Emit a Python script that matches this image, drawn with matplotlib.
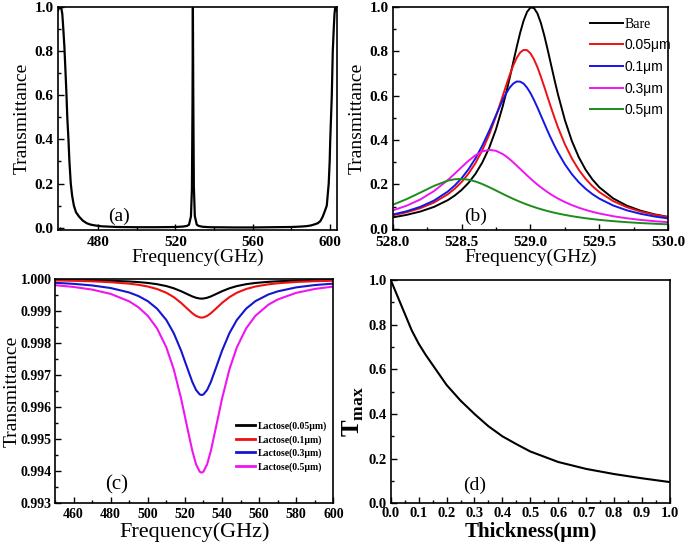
import matplotlib
matplotlib.use("Agg")
import matplotlib.pyplot as plt
from matplotlib.ticker import MultipleLocator, FormatStrFormatter

plt.rcParams['font.family'] = ['Liberation Serif', 'DejaVu Serif']
plt.rcParams['mathtext.fontset'] = 'custom'
plt.rcParams['mathtext.rm'] = 'Liberation Serif'
plt.rcParams['mathtext.bf'] = 'Liberation Serif:bold'

# ---------------- Panel (a) data ----------------
freq_a = [459.2, 459.8, 460.3, 460.9, 461.4, 461.8, 462.5, 463.0, 463.5, 464.0, 464.6,
          465.1, 465.8, 466.5, 467.4, 468.5, 470.1, 472.0, 474.1, 476.0, 478.4, 482.0,
          490.0, 500.0, 510.0, 520.0, 524.0, 526.0, 527.0, 528.0, 528.5, 528.8, 529.0,
          529.2, 529.5, 530.0, 531.0, 532.0, 534.0, 538.0, 550.0, 560.0, 570.0, 580.0,
          585.0, 588.0, 590.1, 592.0, 593.6, 595.0, 596.2, 597.3, 598.3, 599.3, 599.8,
          600.1, 600.5, 600.9, 601.4, 601.9, 602.3, 602.7, 603.2, 603.6]
trans_a = [0.985, 0.998, 1.0, 0.995, 0.97, 0.92, 0.82, 0.72, 0.62, 0.5, 0.4,
           0.3, 0.2, 0.145, 0.1, 0.07, 0.05, 0.032, 0.02, 0.014, 0.01, 0.006,
           0.003, 0.002, 0.002, 0.003, 0.005, 0.008, 0.0135, 0.051, 0.175, 0.556, 0.998,
           0.605, 0.187, 0.053, 0.0137, 0.008, 0.004, 0.002, 0.001, 0.001, 0.002, 0.003,
           0.005, 0.007, 0.01, 0.015, 0.02, 0.03, 0.05, 0.075, 0.1, 0.2, 0.3,
           0.4, 0.5, 0.6, 0.8, 0.9, 0.97, 1.0, 0.995, 0.985]

# ---------------- Panel (b) data ----------------
freq_b = [528.0, 528.1, 528.2, 528.3, 528.4, 528.45, 528.5, 528.55, 528.6, 528.65,
          528.7, 528.75, 528.8, 528.825, 528.85, 528.875, 528.9, 528.925, 528.95, 528.975,
          529.0, 529.025, 529.05, 529.075, 529.1, 529.125, 529.15, 529.175, 529.2, 529.25,
          529.3, 529.35, 529.4, 529.45, 529.5, 529.6, 529.7, 529.8, 529.9, 530.0]
bare_b = [0.0513, 0.0625, 0.0776, 0.0987, 0.1292, 0.1497, 0.1751, 0.2069, 0.2472, 0.2987,
          0.3648, 0.4495, 0.5559, 0.6173, 0.6832, 0.7518, 0.8202, 0.8843, 0.9388, 0.9783,
          0.9982, 0.9959, 0.9718, 0.9289, 0.8720, 0.8067, 0.7380, 0.6697, 0.6046, 0.4894,
          0.3963, 0.3232, 0.2663, 0.2219, 0.1869, 0.1369, 0.1039, 0.0813, 0.0651, 0.0533]
t005_b = [0.0607, 0.0742, 0.0926, 0.1184, 0.1556, 0.1805, 0.2110, 0.2488, 0.2957, 0.3537,
          0.4244, 0.5083, 0.6020, 0.6497, 0.6955, 0.7368, 0.7709, 0.7950, 0.8069, 0.8056,
          0.7911, 0.7648, 0.7291, 0.6866, 0.6403, 0.5924, 0.5450, 0.4994, 0.4565, 0.3804,
          0.3174, 0.2664, 0.2252, 0.1919, 0.1650, 0.1248, 0.0971, 0.0774, 0.0631, 0.0523]
t01_b = [0.0640, 0.0788, 0.0989, 0.1272, 0.1680, 0.1951, 0.2281, 0.2683, 0.3169, 0.3748,
         0.4413, 0.5132, 0.5828, 0.6127, 0.6377, 0.6549, 0.6643, 0.6637, 0.6547, 0.6365,
         0.6118, 0.5812, 0.5476, 0.5116, 0.4755, 0.4398, 0.4058, 0.3735, 0.3436, 0.2905,
         0.2464, 0.2101, 0.1803, 0.1559, 0.1357, 0.1049, 0.0830, 0.0672, 0.0553, 0.0463]
t03_b = [0.0828, 0.1037, 0.1321, 0.1702, 0.2198, 0.2483, 0.2780, 0.3067, 0.3314, 0.3489,
         0.3560, 0.3516, 0.3364, 0.3255, 0.3131, 0.2994, 0.2850, 0.2702, 0.2554, 0.2407,
         0.2265, 0.2127, 0.1996, 0.1872, 0.1756, 0.1646, 0.1544, 0.1449, 0.1361, 0.1203,
         0.1067, 0.0950, 0.0850, 0.0763, 0.0688, 0.0566, 0.0472, 0.0399, 0.0341, 0.0295]
t05_b = [0.1080, 0.1334, 0.1631, 0.1935, 0.2171, 0.2234, 0.2249, 0.2214, 0.2134, 0.2017,
         0.1877, 0.1724, 0.1569, 0.1493, 0.1420, 0.1348, 0.1279, 0.1213, 0.1151, 0.1091,
         0.1035, 0.0982, 0.0931, 0.0884, 0.0840, 0.0798, 0.0758, 0.0722, 0.0687, 0.0624,
         0.0568, 0.0519, 0.0475, 0.0436, 0.0401, 0.0343, 0.0296, 0.0257, 0.0226, 0.0199]
labels_b = ['Bare', '0.05\u03bcm', '0.1\u03bcm', '0.3\u03bcm', '0.5\u03bcm']
colors_b = ['black', '#ee1111', '#1515e8', '#f015f0', '#1c8c1c']

# ---------------- Panel (c) data ----------------
freq_c = [450, 460, 470, 480, 490, 495, 500, 505, 510, 514, 518, 521, 524, 526, 528,
          529, 530, 532, 534, 537, 540, 544, 548, 553, 558, 565, 570, 580, 590, 600]
lac005_c = [0.999982, 0.999976, 0.999968, 0.999954, 0.999931, 0.999912, 0.999885, 0.999846,
            0.999787, 0.999718, 0.999625, 0.999543, 0.999463, 0.999421, 0.999397, 0.999394,
            0.999397, 0.999421, 0.999463, 0.999543, 0.999625, 0.999718, 0.999787, 0.999846,
            0.999885, 0.999920, 0.999937, 0.999958, 0.999970, 0.999977]
lac01_c = [0.999963, 0.999953, 0.999936, 0.999909, 0.999863, 0.999826, 0.999773, 0.999695,
           0.999578, 0.999441, 0.999258, 0.999095, 0.998936, 0.998853, 0.998806, 0.998800,
           0.998806, 0.998853, 0.998936, 0.999095, 0.999258, 0.999441, 0.999578, 0.999695,
           0.999773, 0.999842, 0.999875, 0.999916, 0.999940, 0.999955]
lac03_c = [0.999890, 0.999857, 0.999807, 0.999726, 0.999586, 0.999474, 0.999315, 0.999079,
           0.998724, 0.998312, 0.997758, 0.997267, 0.996784, 0.996533, 0.996392, 0.996374,
           0.996392, 0.996533, 0.996784, 0.997267, 0.997758, 0.998312, 0.998724, 0.999079,
           0.999315, 0.999524, 0.999621, 0.999746, 0.999819, 0.999864]
lac05_c = [0.999815, 0.999760, 0.999677, 0.999543, 0.999308, 0.999121, 0.998855, 0.998461,
           0.997868, 0.997179, 0.996253, 0.995432, 0.994626, 0.994206, 0.993971, 0.993940,
           0.993971, 0.994206, 0.994626, 0.995432, 0.996253, 0.997179, 0.997868, 0.998461,
           0.998855, 0.999204, 0.999367, 0.999575, 0.999697, 0.999773]
labels_c = ['Lactose(0.05\u03bcm)', 'Lactose(0.1\u03bcm)', 'Lactose(0.3\u03bcm)', 'Lactose(0.5\u03bcm)']
colors_c = ['black', '#ee1111', '#1515d0', '#f015f0']

# ---------------- Panel (d) data ----------------
thick_d = [0.0, 0.025, 0.05, 0.075, 0.1, 0.125, 0.15, 0.2, 0.25, 0.3, 0.35, 0.4, 0.45,
           0.5, 0.6, 0.7, 0.8, 0.9, 1.0]
tmax_d = [1.0, 0.925, 0.85, 0.775, 0.715, 0.665, 0.62, 0.53, 0.46, 0.40, 0.345, 0.30, 0.265,
          0.232, 0.185, 0.154, 0.131, 0.112, 0.095]

fig = plt.figure(figsize=(6.85, 5.46), dpi=100)

def style(ax, tsize, xpad=3, ypad=3):
    ax.tick_params(axis='both', which='both', direction='in', top=False, right=False,
                   labelsize=tsize, width=1.0)
    ax.tick_params(axis='x', which='both', pad=xpad)
    ax.tick_params(axis='y', which='both', pad=ypad)
    ax.tick_params(which='major', length=4.5)
    ax.tick_params(which='minor', length=2.5)
    for lab in ax.get_xticklabels() + ax.get_yticklabels():
        lab.set_fontweight('bold')
    for s in ax.spines.values():
        s.set_linewidth(1.2)

# (a)
axa = fig.add_axes([0.0847, 0.579, 0.4073, 0.408])
axa.plot(freq_a, trans_a, color='black', lw=1.6)
axa.set_xlim(459.2, 603.6)
axa.set_ylim(-0.01, 1.0)
axa.set_xticks([480, 520, 560, 600])
axa.xaxis.set_minor_locator(MultipleLocator(20))
axa.yaxis.set_major_locator(MultipleLocator(0.2))
axa.yaxis.set_minor_locator(MultipleLocator(0.1))
axa.yaxis.set_major_formatter(FormatStrFormatter('%.1f'))
style(axa, 11, xpad=4.5)
axa.set_xlabel('Frequency(GHz)', fontsize=14, labelpad=0)
axa.set_ylabel('Transmittance', fontsize=14, labelpad=3)
axa.text(0.22, 0.06, '(a)', transform=axa.transAxes, fontsize=14, ha='center', va='center')

# (b)
axb = fig.add_axes([0.5733, 0.579, 0.4023, 0.408])
for ys, lab, col in zip([bare_b, t005_b, t01_b, t03_b, t05_b], labels_b, colors_b):
    axb.plot(freq_b, ys, color=col, lw=1.4, label=lab)
axb.set_xlim(528.0, 530.0)
axb.set_ylim(-0.005, 1.0)
axb.xaxis.set_major_locator(MultipleLocator(0.5))
axb.xaxis.set_minor_locator(MultipleLocator(0.25))
axb.xaxis.set_major_formatter(FormatStrFormatter('%.1f'))
axb.yaxis.set_major_locator(MultipleLocator(0.2))
axb.yaxis.set_minor_locator(MultipleLocator(0.1))
axb.yaxis.set_major_formatter(FormatStrFormatter('%.1f'))
style(axb, 11, xpad=4.5)
axb.set_xlabel('Frequency(GHz)', fontsize=14, labelpad=0)
axb.set_ylabel('Transmittance', fontsize=14, labelpad=3)
axb.text(0.3, 0.06, '(b)', transform=axb.transAxes, fontsize=14, ha='center', va='center')
legb = axb.legend(loc='upper right', frameon=False, fontsize=10, handlelength=2.4,
                  handletextpad=0.1, labelspacing=0.55, borderaxespad=0.2,
                  bbox_to_anchor=(1.04, 0.99))
for i, t in enumerate(legb.get_texts()):
    if i > 0:
        t.set_fontfamily(['Liberation Sans', 'DejaVu Sans'])

# (c)
axc = fig.add_axes([0.0803, 0.0793, 0.4063, 0.4092])
for ys, lab, col in zip([lac005_c, lac01_c, lac03_c, lac05_c], labels_c, colors_c):
    axc.plot(freq_c, ys, color=col, lw=1.5, label=lab)
axc.set_xlim(450, 600)
axc.set_ylim(0.993, 1.000)
axc.xaxis.set_major_locator(MultipleLocator(20))
axc.xaxis.set_minor_locator(MultipleLocator(10))
axc.yaxis.set_major_locator(MultipleLocator(0.001))
axc.yaxis.set_minor_locator(MultipleLocator(0.0005))
axc.yaxis.set_major_formatter(FormatStrFormatter('%.3f'))
style(axc, 10, xpad=4, ypad=2.5)
axc.set_xlabel('Frequency(GHz)', fontsize=16, labelpad=1)
axc.set_ylabel('Transmittance', fontsize=14)
axc.yaxis.set_label_coords(-0.122, 0.5)
axc.text(0.22, 0.08, '(c)', transform=axc.transAxes, fontsize=15, ha='center', va='center')
legc = axc.legend(loc='lower right', frameon=False, handlelength=2.0, handletextpad=0.3,
                  labelspacing=0.4, bbox_to_anchor=(1.01, 0.1),
                  prop={'family': ['Liberation Serif', 'DejaVu Serif'], 'weight': 'bold', 'size': 7})
for ln in legc.get_lines():
    ln.set_linewidth(2.0)

# (d)
axd = fig.add_axes([0.5704, 0.0782, 0.4076, 0.409])
axd.plot(thick_d, tmax_d, color='black', lw=1.5)
axd.set_xlim(0, 1)
axd.set_ylim(0, 1)
axd.xaxis.set_major_locator(MultipleLocator(0.1))
axd.xaxis.set_minor_locator(MultipleLocator(0.05))
axd.xaxis.set_major_formatter(FormatStrFormatter('%.1f'))
axd.yaxis.set_major_locator(MultipleLocator(0.2))
axd.yaxis.set_minor_locator(MultipleLocator(0.1))
axd.yaxis.set_major_formatter(FormatStrFormatter('%.1f'))
style(axd, 10.5)
axd.set_xlabel('Thickness(\u03bcm)', fontsize=15, fontweight='bold', labelpad=1)
axd.set_ylabel(r'$\mathbf{T}_{\mathbf{max}}$', fontsize=18)
axd.yaxis.set_label_coords(-0.09, 0.41)
axd.text(0.3, 0.08, '(d)', transform=axd.transAxes, fontsize=14, ha='center', va='center')

fig.savefig('out.png', dpi=100)
